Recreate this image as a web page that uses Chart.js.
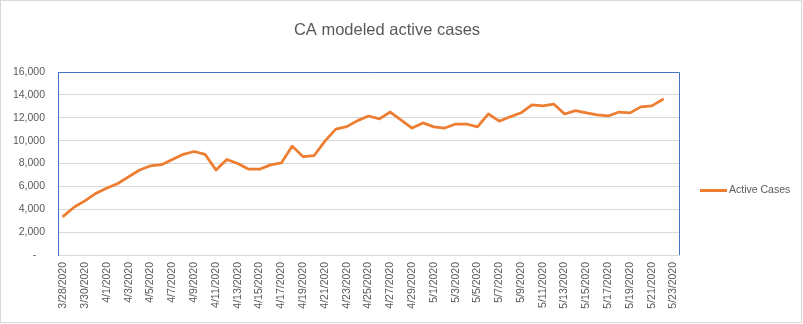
<!DOCTYPE html>
<html>
<head>
<meta charset="utf-8">
<script src="https://cdn.jsdelivr.net/npm/chart.js@4/dist/chart.umd.min.js"></script>
<style>
  html, body { margin: 0; padding: 0; background: #ffffff; }
  #wrap { width: 803px; height: 324px; position: relative; }
</style>
</head>
<body>
<div id="wrap"><canvas id="c" width="803" height="324"></canvas></div>
<script>
const chartTitle = "CA modeled active cases";
const seriesName = "Active Cases";

const categories = [
  "3/28/2020","3/29/2020","3/30/2020","3/31/2020",
  "4/1/2020","4/2/2020","4/3/2020","4/4/2020","4/5/2020","4/6/2020","4/7/2020","4/8/2020","4/9/2020","4/10/2020",
  "4/11/2020","4/12/2020","4/13/2020","4/14/2020","4/15/2020","4/16/2020","4/17/2020","4/18/2020","4/19/2020","4/20/2020",
  "4/21/2020","4/22/2020","4/23/2020","4/24/2020","4/25/2020","4/26/2020","4/27/2020","4/28/2020","4/29/2020","4/30/2020",
  "5/1/2020","5/2/2020","5/3/2020","5/4/2020","5/5/2020","5/6/2020","5/7/2020","5/8/2020","5/9/2020","5/10/2020",
  "5/11/2020","5/12/2020","5/13/2020","5/14/2020","5/15/2020","5/16/2020","5/17/2020","5/18/2020","5/19/2020","5/20/2020",
  "5/21/2020","5/22/2020","5/23/2020"
];

const activeCases = [
  3400, 4200, 4750, 5400, 5850, 6250, 6850, 7430, 7800, 7900,
  8350, 8800, 9050, 8800, 7430, 8350, 8000, 7500, 7500, 7880,
  8050, 9520, 8600, 8680, 9950, 11000, 11220, 11750, 12150, 11900,
  12500, 11800, 11100, 11550, 11200, 11100, 11450, 11450, 11200, 12330,
  11700, 12080, 12430, 13120, 13040, 13200, 12330, 12620, 12430, 12250,
  12160, 12500, 12430, 12950, 13040, 13600, null
];

const yTicks = [0, 2000, 4000, 6000, 8000, 10000, 12000, 14000, 16000];

const textColor = "#595959";
const lineColor = "#ED7D31";
const gridColor = "#D9D9D9";
const plotBorder = "#4472C4";
const baseFont = "'Liberation Sans', Arial, sans-serif";

const framePlugin = {
  id: "frame",
  beforeDraw(chart) {
    const ctx = chart.ctx;
    ctx.save();
    ctx.fillStyle = "#ffffff";
    ctx.fillRect(0, 0, chart.width, chart.height);
    ctx.strokeStyle = gridColor;
    ctx.lineWidth = 1;
    ctx.strokeRect(0.5, 0.5, chart.width - 2, chart.height - 2);
    ctx.restore();
  },
  beforeDatasetsDraw(chart) {
    const ctx = chart.ctx;
    const a = chart.chartArea;
    ctx.save();
    ctx.strokeStyle = plotBorder;
    ctx.lineWidth = 1;
    ctx.beginPath();
    ctx.moveTo(a.left, a.top + 0.5);
    ctx.lineTo(a.right + 0.5, a.top + 0.5);
    ctx.lineTo(a.right + 0.5, a.bottom);
    ctx.stroke();
    ctx.restore();
  },
  afterDraw(chart) {
    const ctx = chart.ctx;
    const a = chart.chartArea;
    ctx.save();
    // title
    ctx.fillStyle = textColor;
    ctx.font = "16.5px " + baseFont;
    ctx.textAlign = "center";
    ctx.textBaseline = "middle";
    ctx.fillText(chartTitle, 387, 30);
    // legend
    const ly = 190.5;
    const lx = a.right + 21;
    ctx.strokeStyle = lineColor;
    ctx.lineWidth = 3;
    ctx.beginPath();
    ctx.moveTo(lx, ly);
    ctx.lineTo(lx + 27, ly);
    ctx.stroke();
    ctx.font = "10.5px " + baseFont;
    ctx.textAlign = "left";
    ctx.fillText(seriesName, lx + 29, ly);
    ctx.restore();
  }
};

new Chart(document.getElementById("c"), {
  type: "line",
  data: {
    labels: categories,
    datasets: [{
      label: seriesName,
      data: activeCases,
      borderColor: lineColor,
      backgroundColor: lineColor,
      borderWidth: 2.75,
      pointRadius: 0,
      tension: 0,
      borderJoinStyle: "round",
      borderCapStyle: "round",
      spanGaps: false
    }]
  },
  options: {
    responsive: false,
    animation: false,
    devicePixelRatio: 1,
    layout: { padding: { top: 72, right: 124, bottom: 0, left: 0 } },
    plugins: {
      legend: { display: false },
      title: { display: false },
      tooltip: { enabled: false }
    },
    scales: {
      x: {
        type: "category",
        offset: true,
        grid: { display: false, drawTicks: false },
        border: { display: true, color: gridColor, width: 1 },
        ticks: {
          autoSkip: false,
          minRotation: 90,
          maxRotation: 90,
          padding: 7,
          color: textColor,
          font: { family: baseFont, size: 10.5 },
          callback: function (v, i) { return i % 2 === 0 ? categories[i] : ""; }
        },
        afterFit: function (s) { s.height = 69; }
      },
      y: {
        min: yTicks[0],
        max: yTicks[yTicks.length - 1],
        afterBuildTicks: function (s) { s.ticks = yTicks.map(v => ({ value: v })); },
        grid: { color: gridColor, lineWidth: 1, drawTicks: false },
        border: { display: true, color: plotBorder, width: 1 },
        ticks: {
          padding: 13,
          color: textColor,
          font: { family: baseFont, size: 10.5 },
          callback: function (v) { return v === 0 ? "-   " : v.toLocaleString("en-US"); }
        },
        afterFit: function (s) { s.width = 58; }
      }
    }
  },
  plugins: [framePlugin]
});
</script>
</body>
</html>
